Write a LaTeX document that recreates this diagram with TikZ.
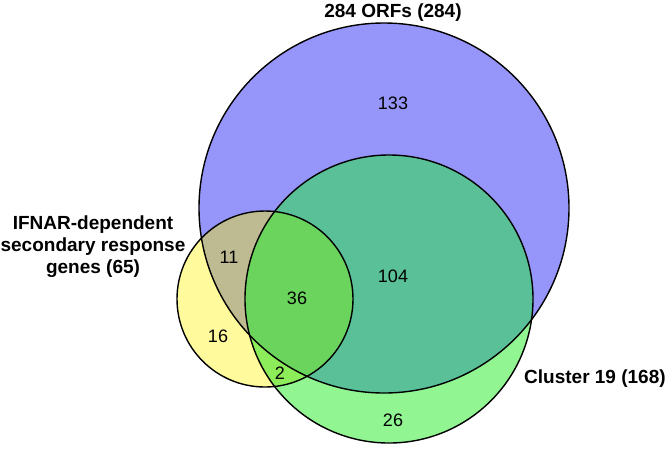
\documentclass[tikz,border=0pt]{standalone}
\usepackage{fontspec}
\setmainfont{Liberation Sans}
\usetikzlibrary{backgrounds}

\definecolor{orfblue}{RGB}{150,150,250}
\definecolor{clustergreen}{RGB}{145,245,145}
\definecolor{ifnaryellow}{RGB}{255,250,155}
\definecolor{orfcluster}{RGB}{90,192,152}
\definecolor{orfifnar}{RGB}{190,186,145}
\definecolor{clusterifnar}{RGB}{140,236,90}
\definecolor{allthree}{RGB}{106,212,92}

\tikzset{
    venn/.style={circle, draw=black, line width=1.4pt, inner sep=0pt},
    setlabel/.style={font=\fontsize{19}{22}\selectfont\bfseries, inner sep=0pt},
    count/.style={font=\fontsize{18}{22}\selectfont, inner sep=0pt}
}

\begin{document}
\begin{tikzpicture}[x=1pt, y=-1pt]
    \useasboundingbox (0,0) rectangle (666,448);

    \node (orfs) [venn, minimum size=370pt] at (384,208) {};
    \node (cluster) [venn, minimum size=288pt] at (389,299) {};
    \node (ifnar) [venn, minimum size=176pt] at (265,299) {};

    \begin{scope}[on background layer]
        \fill[white] (0,0) rectangle (666,448);
        \fill[orfblue] (orfs.center) circle (185pt);
        \fill[clustergreen] (cluster.center) circle (144pt);
        \fill[ifnaryellow] (ifnar.center) circle (88pt);
        \begin{scope}
            \clip (orfs.center) circle (185pt);
            \fill[orfcluster] (cluster.center) circle (144pt);
            \fill[orfifnar] (ifnar.center) circle (88pt);
        \end{scope}
        \begin{scope}
            \clip (cluster.center) circle (144pt);
            \fill[clusterifnar] (ifnar.center) circle (88pt);
            \clip (orfs.center) circle (185pt);
            \fill[allthree] (ifnar.center) circle (88pt);
        \end{scope}
    \end{scope}

    \node (orftitle) [setlabel, anchor=base] at (393,17) {284 ORFs (284)};
    \node (clustertitle) [setlabel, anchor=base west] at (524,383) {Cluster 19 (168)};
    \node (ifnartitle) [setlabel, align=center] at (93,247) {IFNAR-dependent\\secondary response\\genes (65)};

    \node (orfonly) [count] at (393,103) {133};
    \node (orfclust) [count] at (393,276) {104};
    \node (orfifn) [count] at (229,257) {11};
    \node (allsets) [count] at (297,298) {36};
    \node (ifnonly) [count] at (218,336) {16};
    \node (clustifn) [count] at (280,373) {2};
    \node (clustonly) [count] at (393,420) {26};
\end{tikzpicture}
\end{document}
